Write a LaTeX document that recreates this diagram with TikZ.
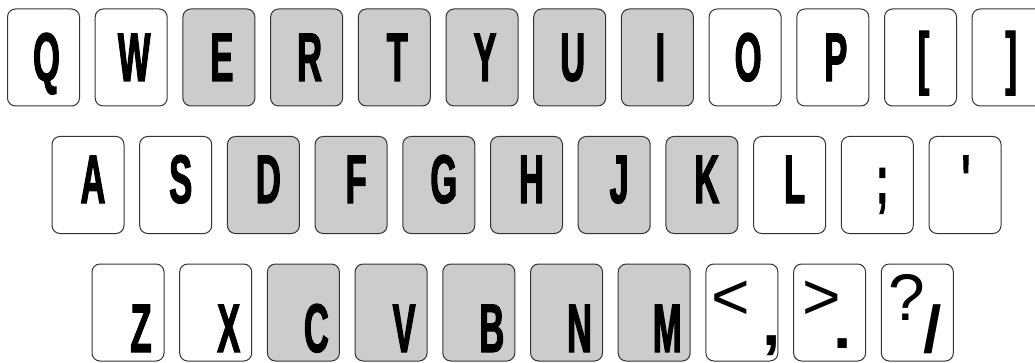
\documentclass[tikz,border=0pt]{standalone}
\usepackage{fontspec}
\usepackage{xcolor}
\usepackage{tikz}
\usetikzlibrary{positioning}
\newfontfamily\capfont{Liberation Sans Bold}[FakeStretch=0.5,FakeBold=1.5]
\newfontfamily\symfont{Liberation Sans}

\begin{document}
\begin{tikzpicture}[
  x=1pt, y=1pt,
  key/.style={rectangle, rounded corners=8pt, draw=black!80, line width=1pt, fill=white, minimum width=72pt, minimum height=97pt, inner sep=0pt, outer sep=0pt},
  keyhi/.style={key, fill=gray!40},
  keycap/.style={font=\capfont\fontsize{69}{69}\selectfont, inner sep=0pt, text height=48pt, text depth=0pt},
  upsym/.style={font=\symfont\fontsize{66}{66}\selectfont, inner sep=0pt, anchor=base},
  dnsym/.style={font=\symfont\bfseries\fontsize{66}{66}\selectfont, inner sep=0pt, anchor=base},
  rowone/.style={label={[keycap, xshift=3pt, yshift=0.5pt]center:#1}},
  rowtwo/.style={label={[keycap, xshift=5pt, yshift=6pt]center:#1}},
  rowthree/.style={label={[keycap, xshift=13pt, yshift=-15.5pt]center:#1}},
  node distance=15.7pt
]
\useasboundingbox (0,0) rectangle (1035,362);
% top row
\node[key, rowone=Q] (q) at (43.5,304.5) {};
\node[key, rowone=W, right=of q] (w) {};
\node[keyhi, rowone=E, right=of w] (e) {};
\node[keyhi, rowone=R, right=of e] (r) {};
\node[keyhi, rowone=T, right=of r] (t) {};
\node[keyhi, rowone=Y, right=of t] (y) {};
\node[keyhi, rowone=U, right=of y] (u) {};
\node[keyhi, rowone=I, right=of u] (i) {};
\node[key, rowone=O, right=of i] (o) {};
\node[key, rowone=P, right=of o] (p) {};
\node[key, rowone={[}, right=of p] (lbrack) {};
\node[key, rowone={]}, right=of lbrack] (rbrack) {};
% home row
\node[key, rowtwo=A] (a) at (88,177) {};
\node[key, rowtwo=S, right=of a] (s) {};
\node[keyhi, rowtwo=D, right=of s] (d) {};
\node[keyhi, rowtwo=F, right=of d] (f) {};
\node[keyhi, rowtwo=G, right=of f] (g) {};
\node[keyhi, rowtwo=H, right=of g] (h) {};
\node[keyhi, rowtwo=J, right=of h] (j) {};
\node[keyhi, rowtwo=K, right=of j] (k) {};
\node[key, rowtwo=L, right=of k] (l) {};
\node[key, rowtwo={;}, right=of l] (semi) {};
\node[key, rowtwo={\textquotesingle}, right=of semi] (quote) {};
% bottom row
\node[key, rowthree=Z] (z) at (128,49.5) {};
\node[key, rowthree=X, right=of z] (x) {};
\node[keyhi, rowthree=C, right=of x] (c) {};
\node[keyhi, rowthree=V, right=of c] (v) {};
\node[keyhi, rowthree=B, right=of v] (b) {};
\node[keyhi, rowthree=N, right=of b] (n) {};
\node[keyhi, rowthree=M, right=of n] (m) {};
\node[key, right=of m] (lt) {};
\node[key, right=of lt] (gt) {};
\node[key, right=of gt] (qm) {};
\node[upsym] (lt_up) at ([xshift=-11.5pt, yshift=-6.5pt]lt.center) {<};
\node[dnsym] (lt_dn) at ([xshift=29.5pt, yshift=-33pt]lt.center) {,};
\node[upsym] (gt_up) at ([xshift=-8pt, yshift=-6.5pt]gt.center) {>};
\node[dnsym] (gt_dn) at ([xshift=13.5pt, yshift=-35.5pt]gt.center) {.};
\node[upsym] (qm_up) at ([xshift=-10pt, yshift=-7.5pt]qm.center) {?};
\node[dnsym] (qm_dn) at ([xshift=15.5pt, yshift=-39.5pt]qm.center) {/};
\end{tikzpicture}
\end{document}
